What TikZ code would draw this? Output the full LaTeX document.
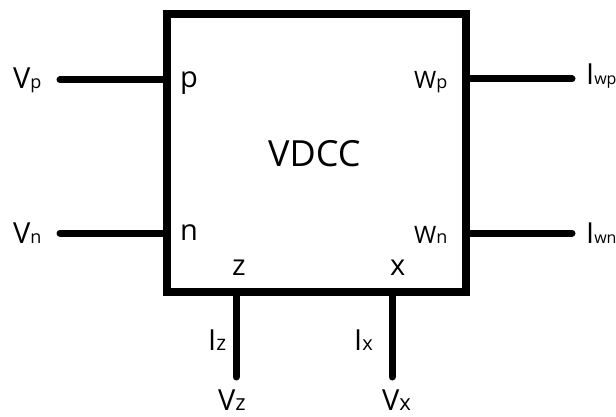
\documentclass[tikz,border=0pt]{standalone}
\usepackage{fontspec}
\setmainfont{Open Sans}
\usetikzlibrary{calc}

\newcommand{\lblfont}{\fontsize{29}{29}\selectfont}
\newcommand{\subfont}{\fontsize{18}{18}\selectfont}

\begin{document}
\begin{tikzpicture}[x=1pt, y=-1pt,
  box/.style={line width=8pt},
  pinline/.style={line width=7pt, line cap=round},
  lbl/.style={inner sep=0pt, anchor=base west, font=\lblfont}]
\useasboundingbox (0,0) rectangle (616,417);
\coordinate (tl) at (167,14);
\coordinate (br) at (466,292);
\draw[box] (tl) rectangle (br);
\node[inner sep=0pt, anchor=base west, font=\fontsize{36}{36}\selectfont] (vdcc) at (268,167) {VDCC};
% pins on the box
\coordinate (pp) at (167,80);
\coordinate (pn) at (167,233);
\coordinate (pwp) at (466,79);
\coordinate (pwn) at (466,233);
\coordinate (pz) at (236,292);
\coordinate (px) at (392,292);
% free ends
\coordinate (ep) at (60,80);
\coordinate (en) at (60,233);
\coordinate (ewp) at (572,79);
\coordinate (ewn) at (572,233);
\coordinate (ez) at (236,377);
\coordinate (ex) at (392,377);
\draw (pp) edge[pinline] (ep);
\draw (pn) edge[pinline] (en);
\draw (pwp) edge[pinline] (ewp);
\draw (pwn) edge[pinline] (ewn);
\draw (pz) edge[pinline] (ez);
\draw (px) edge[pinline] (ex);
% labels
\node[lbl] (vp) at (13,89) {V{\subfont p}};
\node[lbl] (vn) at (13,243) {V{\subfont n}};
\node[lbl] (p) at (180,88) {p};
\node[lbl] (n) at (180,240) {n};
\node[lbl, font=\fontsize{24}{24}\selectfont] (wp) at (414,89) {W{\subfont p}};
\node[lbl, font=\fontsize{24}{24}\selectfont] (wn) at (414,243) {W{\subfont n}};
\node[lbl] (iwp) at (586,85) {I{\fontsize{16}{16}\selectfont wp}};
\node[lbl] (iwn) at (586,243) {I{\fontsize{16}{16}\selectfont wn}};
\node[lbl] (z) at (232,275) {z};
\node[lbl] (x) at (390,275) {x};
\node[lbl] (iz) at (208,350) {I{\fontsize{21}{21}\selectfont z}};
\node[lbl] (ix) at (354,350) {I{\fontsize{20}{20}\selectfont x}};
\node[lbl] (vz) at (218,410) {V{\fontsize{22}{22}\selectfont z}};
\node[lbl] (vx) at (382,410) {V{\fontsize{22}{22}\selectfont x}};
\end{tikzpicture}
\end{document}
